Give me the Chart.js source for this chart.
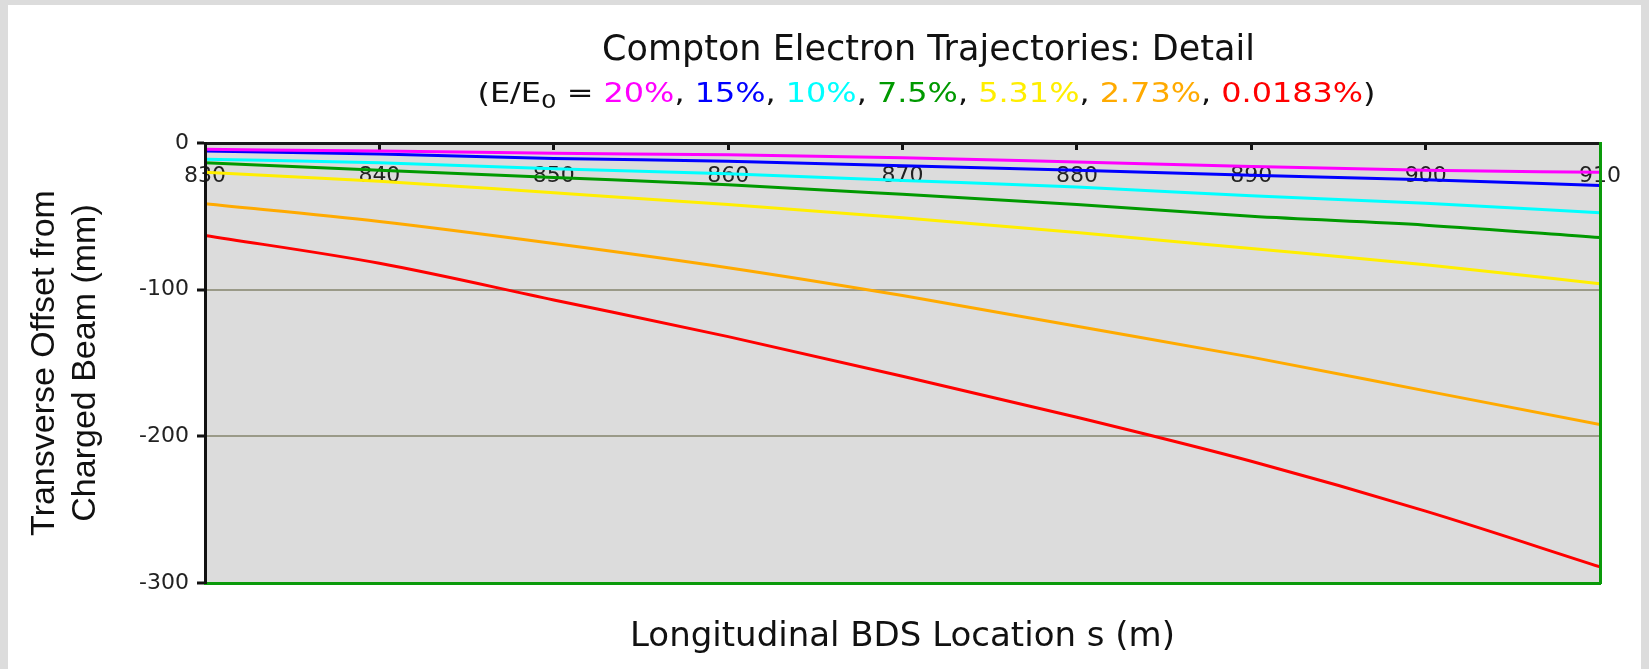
<!DOCTYPE html>
<html>
<head>
<meta charset="utf-8">
<script src="https://cdn.jsdelivr.net/npm/chart.js@4.4.1/dist/chart.umd.min.js"></script>
<style>
  html, body { margin: 0; padding: 0; background: #dcdcdc; width: 1649px; height: 669px; overflow: hidden; }
  #card { position: absolute; left: 8px; top: 5px; width: 1633px; height: 664px; background: #ffffff; }
  canvas { display: block; }
</style>
</head>
<body>
<div id="card"><canvas id="c" width="1633" height="664"></canvas></div>
<script>
// ---- data ----
const sPositions = [830, 840, 850, 860, 870, 880, 890, 900, 910];
const offset20   = [-4.3, -5.5, -7, -8, -10, -13, -16, -18.5, -20];
const offset15   = [-5.5, -7.5, -10.5, -12.5, -15.5, -18.5, -22, -25, -29];
const offset10   = [-11, -13.5, -17.5, -21, -25.5, -30, -36, -41, -47.5];
const offset7_5  = [-13.5, -18.5, -23.5, -28.5, -35, -42, -50, -56, -64.5];
const offset5_31 = [-20, -26, -34, -42, -51, -61, -72, -83, -96];
const offset2_73 = [-41.5, -53.5, -68.5, -85, -104, -125, -146, -169, -192];
const offset0_0183 = [-63, -82, -107, -132, -159, -187, -217, -251, -289];

const seriesLabels = ['20%', '15%', '10%', '7.5%', '5.31%', '2.73%', '0.0183%'];
const seriesValues = [offset20, offset15, offset10, offset7_5, offset5_31, offset2_73, offset0_0183];
const xTickValues = [830, 840, 850, 860, 870, 880, 890, 900, 910];
const yTickValues = [0, -100, -200, -300];
const titleText = 'Compton Electron Trajectories: Detail';
const xAxisTitle = 'Longitudinal BDS Location s (m)';
const yAxisTitle = ['Transverse Offset from', 'Charged Beam (mm)'];

// ---- styles ----
const seriesColors = ['#ff00ff', '#0000ff', '#00ffff', '#009900', '#ffee00', '#ffaa00', '#ff0000'];
const GREEN_FRAME = '#0a9a0a';

const datasets = seriesValues.map((vals, i) => ({
  label: seriesLabels[i],
  data: sPositions.map((s, j) => ({ x: s, y: vals[j] })),
  borderColor: seriesColors[i],
  backgroundColor: seriesColors[i],
  borderWidth: 3,
  pointRadius: 0,
  fill: false,
  cubicInterpolationMode: 'monotone'
}));

const plotBg = {
  id: 'plotBg',
  beforeDraw(chart) {
    const { ctx, chartArea: a } = chart;
    ctx.save();
    ctx.fillStyle = '#dcdcdc';
    ctx.fillRect(a.left, a.top, a.right - a.left, a.bottom - a.top);
    ctx.restore();
  }
};

const headings = {
  id: 'headings',
  afterDraw(chart) {
    const { ctx, chartArea: a } = chart;
    const mid = (a.left + a.right) / 2;
    ctx.save();
    ctx.textBaseline = 'alphabetic';
    // main title
    ctx.font = '35px "DejaVu Sans"';
    ctx.fillStyle = '#111';
    ctx.textAlign = 'center';
    ctx.fillText(titleText, mid + 26, 55);
    // coloured subtitle
    const parts = [{ t: '(E/E', c: '#111' }, { t: '0', c: '#111', sub: true }, { t: ' = ', c: '#111' }];
    seriesLabels.forEach((lab, i) => {
      parts.push({ t: lab, c: seriesColors[i] });
      parts.push({ t: i < seriesLabels.length - 1 ? ', ' : ')', c: '#111' });
    });
    const mainFont = '26px "DejaVu Sans"', subFont = '20px "DejaVu Sans"';
    let total = 0;
    parts.forEach(p => { ctx.font = p.sub ? subFont : mainFont; p.w = ctx.measureText(p.t).width; total += p.w; });
    const targetW = 898;
    const sx = targetW / total;
    ctx.translate(mid + 24 - targetW / 2, 97);
    ctx.scale(sx, 1);
    ctx.textAlign = 'left';
    let x = 0;
    parts.forEach(p => {
      ctx.font = p.sub ? subFont : mainFont;
      ctx.fillStyle = p.c;
      ctx.fillText(p.t, x, p.sub ? 6 : 0);
      x += p.w;
    });
    ctx.restore();
  }
};

new Chart(document.getElementById('c'), {
  type: 'line',
  data: { datasets },
  plugins: [plotBg, headings],
  options: {
    responsive: false,
    animation: false,
    devicePixelRatio: 1,
    layout: { padding: { top: 128, left: 0, right: 38, bottom: 0 } },
    plugins: { legend: { display: false }, tooltip: { enabled: false }, title: { display: false } },
    scales: {
      x: {
        type: 'linear',
        position: 'top',
        min: 830, max: 910,
        afterBuildTicks: s => { s.ticks = xTickValues.map(v => ({ value: v })); },
        afterFit: s => { s.height = 10; },
        ticks: {
          mirror: true,
          padding: 20,
          color: '#222',
          font: { family: '"DejaVu Sans"', size: 22 },
          maxRotation: 0,
          autoSkip: false
        },
        grid: { drawOnChartArea: false, drawTicks: true, tickLength: -7, tickColor: '#111', tickWidth: 3 },
        border: { display: true, color: '#1a1a1a', width: 3, z: 1 }
      },
      x2: {
        type: 'linear',
        position: 'bottom',
        display: true,
        afterFit: s => { s.height = 86; },
        ticks: { display: false },
        grid: { drawOnChartArea: false, drawTicks: false },
        border: { display: true, color: GREEN_FRAME, width: 3, z: 1 },
        title: {
          display: true,
          text: xAxisTitle,
          color: '#111',
          font: { family: '"DejaVu Sans"', size: 34, lineHeight: 1.2 },
          padding: { top: 0, bottom: 11 }
        }
      },
      y: {
        type: 'linear',
        position: 'left',
        min: -300, max: 0,
        afterBuildTicks: s => { s.ticks = yTickValues.map(v => ({ value: v })); },
        afterFit: s => { s.width = 197; },
        ticks: {
          padding: 8,
          color: '#222',
          font: { family: '"DejaVu Sans"', size: 22 }
        },
        grid: {
          drawOnChartArea: true,
          drawTicks: true,
          tickLength: 8,
          tickWidth: 3,
          tickColor: '#111',
          lineWidth: 2,
          color: c => (c.tick && (c.tick.value === -100 || c.tick.value === -200)) ? '#9a9a88' : 'rgba(0,0,0,0)'
        },
        border: { display: true, color: '#111', width: 3, z: 1 },
        title: {
          display: true,
          text: yAxisTitle,
          color: '#111',
          font: { family: '"Liberation Sans", Arial', size: 34, lineHeight: 1.2 },
          padding: { top: 16, bottom: 0 }
        }
      },
      y2: {
        type: 'linear',
        position: 'right',
        display: true,
        afterFit: s => { s.width = 0; },
        ticks: { display: false },
        grid: { drawOnChartArea: false, drawTicks: false },
        border: { display: true, color: GREEN_FRAME, width: 3, z: 1 }
      }
    }
  }
});
</script>
</body>
</html>
